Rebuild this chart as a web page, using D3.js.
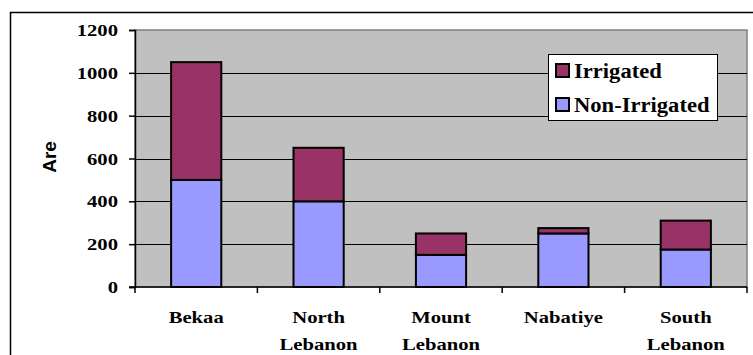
<!DOCTYPE html>
<html>
<head>
<meta charset="utf-8">
<script src="https://cdn.jsdelivr.net/npm/d3@7"></script>
<style>
  html, body { margin: 0; padding: 0; background: #fff; }
  svg { display: block; }
  .serif { font-family: "Times New Roman", "Liberation Serif", serif; font-weight: bold; fill: #000; }
</style>
</head>
<body>
<svg id="chart" width="753" height="355"></svg>
<script>
// Cultivated area by governorate, stacked: non-irrigated at the bottom, irrigated on top
const regions = [["Bekaa"], ["North", "Lebanon"], ["Mount", "Lebanon"], ["Nabatiye"], ["South", "Lebanon"]];
const nonIrrigated = [500, 400, 150, 250, 175];
const irrigated = [550, 250, 100, 25, 135];
const yTicks = [0, 200, 400, 600, 800, 1000, 1200];
const seriesNames = ["Irrigated", "Non-Irrigated"];
const seriesColors = { "Irrigated": "#993366", "Non-Irrigated": "#9999FF" };

const W = 753, H = 355;
const plot = { left: 135, top: 30, right: 747, bottom: 287 };

const svg = d3.select("#chart");

// outer chart frame
svg.append("rect")
  .attr("x", 10.5).attr("y", 12.5)
  .attr("width", W + 10).attr("height", H + 10)
  .attr("fill", "#fff").attr("stroke", "#000").attr("stroke-width", 1.5);

const keys = regions.map(r => r.join(" "));
const x = d3.scaleBand().domain(keys).range([plot.left, plot.right]).paddingInner(0).paddingOuter(0);
const y = d3.scaleLinear().domain([0, 1200]).range([plot.bottom, plot.top]);

// plot area
svg.append("rect")
  .attr("x", plot.left).attr("y", plot.top)
  .attr("width", plot.right - plot.left).attr("height", plot.bottom - plot.top)
  .attr("fill", "#C0C0C0").attr("stroke", "#808080").attr("stroke-width", 1.5);

// gridlines
svg.append("g").selectAll("line")
  .data(yTicks.filter(t => t > 0 && t < 1200))
  .join("line")
  .attr("x1", plot.left).attr("x2", plot.right)
  .attr("y1", d => Math.round(y(d)) + 0.5).attr("y2", d => Math.round(y(d)) + 0.5)
  .attr("stroke", "#000").attr("stroke-width", 1);

// wide serif lettering: horizontally stretched text
function stretchedText(g, tx, ty, str, anchor, size, sx) {
  return g.append("text")
    .attr("class", "serif")
    .attr("transform", `translate(${tx},${ty}) scale(${sx},1)`)
    .attr("text-anchor", anchor)
    .attr("font-size", size)
    .text(str);
}

// stacked bars
const rows = keys.map((k, i) => ({ key: k, nonIrrigated: nonIrrigated[i], irrigated: irrigated[i] }));
const stack = d3.stack().keys(["nonIrrigated", "irrigated"])(rows);
const fills = { nonIrrigated: seriesColors["Non-Irrigated"], irrigated: seriesColors["Irrigated"] };
const barW = x.bandwidth() * 0.41;

svg.append("g").selectAll("g")
  .data(stack)
  .join("g")
  .attr("fill", s => fills[s.key])
  .selectAll("rect")
  .data(s => s)
  .join("rect")
  .attr("x", d => x(d.data.key) + (x.bandwidth() - barW) / 2)
  .attr("y", d => y(d[1]))
  .attr("width", barW)
  .attr("height", d => y(d[0]) - y(d[1]))
  .attr("stroke", "#000").attr("stroke-width", 2);

// y axis
const yAxis = svg.append("g").attr("transform", `translate(${plot.left},0)`)
  .call(d3.axisLeft(y).tickValues(yTicks).tickSize(6).tickFormat(""));
yAxis.select(".domain").attr("stroke", "#000").attr("stroke-width", 1.5);
yAxis.selectAll(".tick line").attr("stroke", "#000").attr("stroke-width", 1.5);
const yLab = svg.append("g");
yTicks.forEach(t => stretchedText(yLab, 118, y(t) + 6, String(t), "end", 17.5, 1.18));

// x axis with ticks at category boundaries
const xAxisG = svg.append("g").attr("transform", `translate(0,${plot.bottom})`);
xAxisG.append("line")
  .attr("x1", plot.left - 6).attr("x2", plot.right)
  .attr("stroke", "#000").attr("stroke-width", 1.5);
const bounds = keys.map(k => x(k)).concat([x(keys[keys.length - 1]) + x.bandwidth()]);
xAxisG.selectAll("line.tk").data(bounds).join("line").attr("class", "tk")
  .attr("x1", d => d).attr("x2", d => d).attr("y1", 0).attr("y2", 6)
  .attr("stroke", "#000").attr("stroke-width", 1.5);

const xLab = svg.append("g");
regions.forEach((lines, i) => {
  const cx = x(keys[i]) + x.bandwidth() / 2;
  lines.forEach((ln, j) => stretchedText(xLab, cx, 323 + j * 27, ln, "middle", 17.5, 1.18));
});

// axis title
svg.append("text")
  .attr("transform", "translate(56,157) rotate(-90)")
  .attr("text-anchor", "middle")
  .attr("font-family", "Liberation Sans, Arial, sans-serif")
  .attr("font-weight", "bold")
  .attr("font-size", 19)
  .text("Are");

// legend
const lg = svg.append("g");
lg.append("rect").attr("x", 548.5).attr("y", 54.5).attr("width", 169).attr("height", 66)
  .attr("fill", "#fff").attr("stroke", "#000").attr("stroke-width", 1);
seriesNames.forEach((name, i) => {
  const cy = 71 + i * 34;
  lg.append("rect").attr("x", 556).attr("y", cy - 7).attr("width", 13).attr("height", 13)
    .attr("fill", seriesColors[name]).attr("stroke", "#000").attr("stroke-width", 2);
  stretchedText(lg, 574, cy + 6.5, name, "start", 20, 1.13);
});
</script>
</body>
</html>
